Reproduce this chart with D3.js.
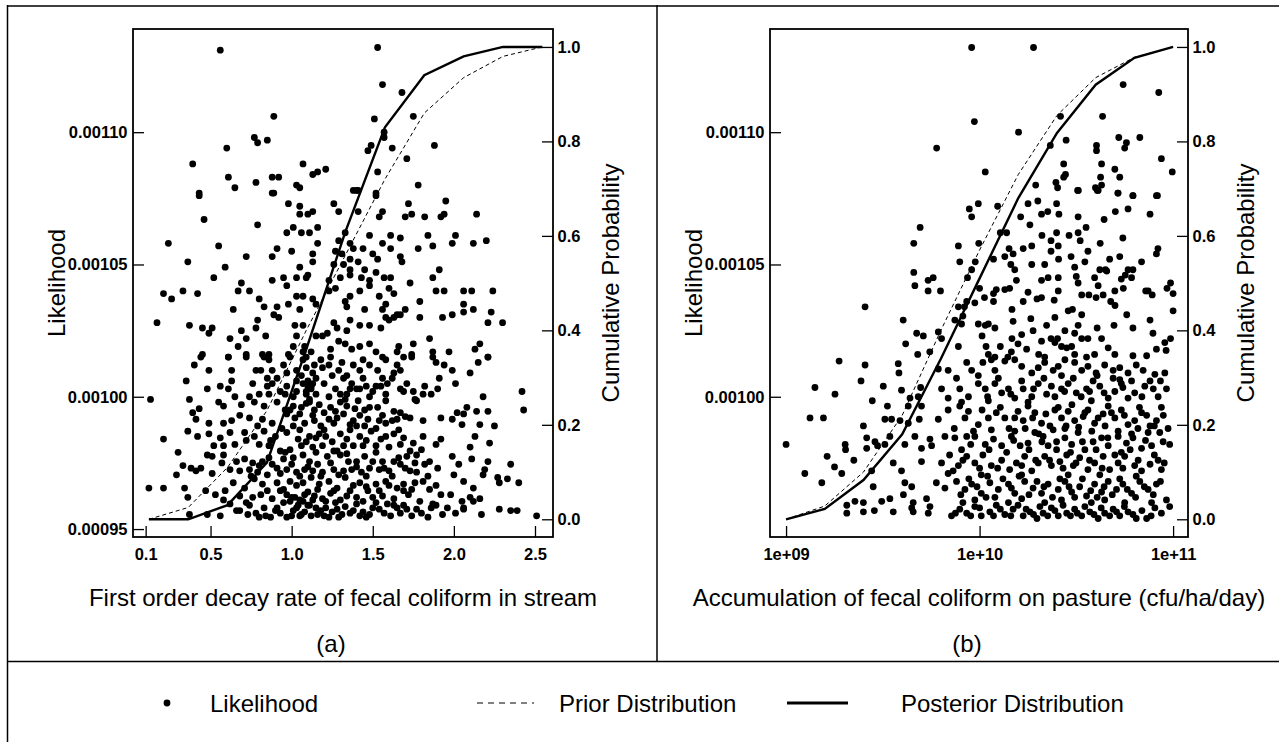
<!DOCTYPE html>
<html>
<head>
<meta charset="utf-8">
<title>Likelihood and cumulative probability</title>
<script src="https://d3js.org/d3.v7.min.js"></script>
<style>
  body { margin: 0; background: #fff; }
  svg { display: block; font-family: "Liberation Sans", Arial, Helvetica, sans-serif; }
</style>
</head>
<body>
<svg width="1279" height="742"></svg>
<script>
// tick values
const decayTicks = [0.1, 0.5, 1.0, 1.5, 2.0, 2.5];
const accumTicks = [1e9, 1e10, 1e11];
const likelihoodTicksA = [0.00095, 0.00100, 0.00105, 0.00110];
const likelihoodTicksB = [0.00100, 0.00105, 0.00110];
const probTicks = [0, 0.2, 0.4, 0.6, 0.8, 1.0];

// prior / posterior cumulative curves, panel (a)
const decayGrid = [0.12, 0.3625, 0.605, 0.8475, 1.09, 1.3325, 1.575, 1.8175, 2.06, 2.3025, 2.545];
const decayPrior = [0, 0.025, 0.11, 0.23, 0.40, 0.56, 0.72, 0.86, 0.935, 0.98, 1.0];
const decayPosterior = [0, 0, 0.03, 0.12, 0.36, 0.61, 0.83, 0.94, 0.98, 1.0, 1.0];

// panel (b)
const accumGrid = [1e9, 1.585e9, 2.512e9, 3.981e9, 6.31e9, 1e10, 1.585e10, 2.512e10, 3.981e10, 6.31e10, 1e11];
const accumPrior = [0, 0.028, 0.10, 0.22, 0.40, 0.57, 0.73, 0.855, 0.935, 0.978, 1.0];
const accumPosterior = [0, 0.022, 0.083, 0.18, 0.34, 0.51, 0.68, 0.818, 0.92, 0.977, 1.0];

// likelihood samples, panel (a): [decay rate, likelihood]
const decayPoints = [
[0.56,113.1e-5],[1.53,113.2e-5],[1.56,111.8e-5],[1.68,111.5e-5],[0.89,110.6e-5],[1.51,110.5e-5],[1.75,110.6e-5],[1.57,110.0e-5],[1.57,109.8e-5],[0.77,109.8e-5],[0.79,109.6e-5],[0.85,109.7e-5],[0.60,109.4e-5],[1.49,109.5e-5],[1.47,109.3e-5],[1.62,109.4e-5],[1.88,109.5e-5],[0.39,108.8e-5],[1.71,109.0e-5],[1.07,108.8e-5],[1.13,108.4e-5],[1.16,108.5e-5],[1.21,108.6e-5],[0.88,108.3e-5],[0.92,108.3e-5],[0.61,108.3e-5],[0.78,108.1e-5],[0.65,107.9e-5],[1.03,108.0e-5],[1.05,107.9e-5],[1.53,108.5e-5],[1.78,108.0e-5],[0.43,107.7e-5],[0.89,107.7e-5],[1.38,107.8e-5],[1.41,107.8e-5],[1.52,107.7e-5],
[0.43,107.6e-5],[0.88,107.7e-5],[1.40,107.8e-5],[1.52,107.6e-5],[0.98,107.3e-5],[1.05,107.2e-5],[1.13,107.0e-5],[1.05,106.9e-5],[1.10,106.9e-5],[1.26,107.3e-5],[1.29,107.0e-5],[1.41,107.0e-5],[1.56,107.0e-5],[1.72,107.3e-5],[1.95,107.4e-5],[2.14,106.9e-5],[1.74,106.9e-5],[1.70,106.8e-5],[1.82,106.8e-5],[1.92,106.8e-5],[1.94,106.9e-5],[1.54,106.8e-5],[0.46,106.7e-5],[0.79,106.5e-5],[1.01,106.4e-5],[0.97,106.2e-5],[1.06,106.2e-5],[1.11,106.2e-5],[1.16,106.4e-5],[1.33,106.2e-5],[1.48,106.1e-5],[1.61,106.1e-5],[1.67,106.0e-5],[1.84,106.1e-5],[2.01,106.1e-5],[1.99,105.8e-5],[2.12,105.8e-5],[2.20,105.9e-5],[0.24,105.8e-5],[0.55,105.7e-5],[0.91,105.6e-5],[1.00,105.5e-5],[1.16,105.8e-5],[1.29,105.9e-5],[1.36,105.8e-5],[1.38,105.6e-5],[1.44,105.6e-5],[1.56,105.8e-5],[1.61,105.6e-5],[1.78,105.6e-5],[1.87,105.7e-5],
[0.72,105.3e-5],[0.88,105.3e-5],[1.13,105.4e-5],[1.13,105.1e-5],[1.27,105.5e-5],[1.31,105.4e-5],[1.36,105.2e-5],[1.41,105.1e-5],[1.50,105.4e-5],[1.53,105.2e-5],[1.67,105.3e-5],[1.68,105.1e-5],[0.36,105.1e-5],[0.59,104.9e-5],[1.05,104.9e-5],[1.10,104.6e-5],[1.26,105.0e-5],[1.32,105.0e-5],[1.36,104.8e-5],[1.45,104.8e-5],[1.52,104.7e-5],[1.91,104.8e-5],[0.52,104.5e-5],[0.88,104.4e-5],[0.95,104.5e-5],[0.97,104.2e-5],[1.03,104.5e-5],[1.09,104.5e-5],[1.23,104.4e-5],[1.30,104.5e-5],[1.36,104.6e-5],[1.43,104.5e-5],[1.48,104.4e-5],[1.57,104.5e-5],[1.61,104.5e-5],[1.87,104.5e-5],[1.73,104.3e-5],[0.69,104.3e-5],[0.67,104.0e-5],[0.74,104.0e-5],[0.21,103.9e-5],[0.26,103.7e-5],[0.33,104.0e-5],[0.42,103.9e-5],[0.80,103.7e-5],[0.83,103.4e-5],[0.91,103.4e-5],[0.98,103.5e-5],[1.03,103.8e-5],[1.07,103.8e-5],[1.13,103.7e-5],[1.23,104.0e-5],[1.27,104.1e-5],[1.33,103.6e-5],[1.36,103.8e-5],[1.42,104.0e-5],[1.48,104.2e-5],[1.54,103.8e-5],[1.60,104.1e-5],[1.63,103.9e-5],[1.89,104.0e-5],[1.94,104.0e-5],[2.06,104.0e-5],[2.11,104.0e-5],[2.24,104.0e-5],[2.06,103.5e-5],[2.12,103.3e-5],[2.23,103.2e-5],
[0.64,103.3e-5],[0.89,103.1e-5],[0.92,103.0e-5],[1.05,103.3e-5],[1.15,103.5e-5],[1.34,103.4e-5],[1.45,103.3e-5],[1.58,103.5e-5],[1.56,103.3e-5],[1.65,103.1e-5],[1.70,103.3e-5],[1.79,103.6e-5],[1.79,103.0e-5],[1.93,103.0e-5],[1.99,103.1e-5],[2.06,103.2e-5],[0.17,102.8e-5],[0.37,102.7e-5],[0.45,102.6e-5],[0.51,102.6e-5],[0.49,102.4e-5],[0.79,102.9e-5],[0.78,102.6e-5],[0.84,102.3e-5],[0.62,102.2e-5],[0.69,102.5e-5],[0.72,102.2e-5],[0.67,101.9e-5],[1.02,102.7e-5],[1.03,102.3e-5],[1.07,102.7e-5],[1.15,102.3e-5],[1.22,102.4e-5],[1.26,102.8e-5],[1.28,102.6e-5],[1.34,102.5e-5],[1.36,102.9e-5],[1.42,102.7e-5],[1.48,102.7e-5],[1.55,102.6e-5],[1.58,103.0e-5],[1.60,102.9e-5],[1.63,103.0e-5],[1.67,103.1e-5],[1.85,102.2e-5],[1.87,101.7e-5],[1.97,101.7e-5],[2.13,101.8e-5],[2.16,102.0e-5],[2.21,102.8e-5],[2.30,102.8e-5],[2.21,101.5e-5],[1.75,102.0e-5],[1.74,101.6e-5],[1.66,101.9e-5],[1.65,101.7e-5],[1.56,101.5e-5],[1.52,101.7e-5],[1.48,102.0e-5],[1.42,101.9e-5],[1.37,101.8e-5],[1.33,102.0e-5],[1.29,102.1e-5],[1.24,101.8e-5],[1.19,102.3e-5],[1.01,101.9e-5],[0.98,101.6e-5],[1.08,101.9e-5],[1.12,101.7e-5],[1.09,101.5e-5],[0.86,101.6e-5],[0.82,101.6e-5],[0.72,101.6e-5],[0.61,101.5e-5],[0.45,101.6e-5],[1.07,101.7e-5],
[0.44,101.5e-5],[0.61,101.5e-5],[0.72,101.5e-5],[0.83,101.5e-5],[0.86,101.4e-5],[0.95,101.2e-5],[0.99,101.5e-5],[1.07,101.4e-5],[1.18,101.4e-5],[1.23,101.2e-5],[1.29,101.0e-5],[1.34,100.8e-5],[1.38,101.2e-5],[1.44,101.4e-5],[1.48,101.2e-5],[1.53,101.0e-5],[1.58,101.4e-5],[1.65,101.2e-5],[1.67,101.0e-5],[1.69,101.5e-5],[1.74,101.5e-5],[1.87,101.5e-5],[1.89,101.3e-5],[1.94,101.2e-5],[1.99,101.0e-5],[2.10,100.9e-5],[2.15,101.3e-5],[2.21,101.5e-5],[0.40,101.2e-5],[0.49,101.0e-5],[0.63,101.0e-5],[0.78,101.0e-5],[0.81,101.0e-5],[0.88,101.0e-5],[0.97,100.9e-5],[1.03,101.0e-5],[1.09,101.1e-5],[1.13,100.9e-5],[1.19,101.1e-5],[1.42,101.0e-5],[1.56,100.7e-5],[1.63,100.9e-5],
[0.35,100.6e-5],[0.48,100.3e-5],[0.56,100.4e-5],[0.61,100.3e-5],[0.63,100.6e-5],[0.85,100.4e-5],[0.85,100.7e-5],[0.91,100.7e-5],[0.97,100.4e-5],[1.03,100.6e-5],[1.07,100.5e-5],[1.12,100.4e-5],[1.15,100.7e-5],[1.27,100.3e-5],[1.32,100.7e-5],[1.37,100.5e-5],[1.42,100.3e-5],[1.46,100.4e-5],[1.52,100.4e-5],[1.59,100.5e-5],[1.67,100.3e-5],[1.71,100.5e-5],[1.75,100.2e-5],[1.82,100.4e-5],[1.86,100.1e-5],[1.90,100.3e-5],[1.91,100.7e-5],[2.01,100.5e-5],[2.18,100.0e-5],[2.42,100.2e-5],[0.65,100.0e-5],[0.74,100.0e-5],[0.86,100.1e-5],[0.96,100.1e-5],[1.01,100.0e-5],[1.09,100.2e-5],[1.15,100.1e-5],[1.23,100.0e-5],[1.34,100.1e-5],[1.40,100.3e-5],[1.48,100.0e-5],[1.58,100.1e-5],[1.69,100.2e-5],[1.76,99.9e-5],[1.81,100.1e-5],[0.13,99.9e-5],[1.10,100.4e-5],[1.12,100.3e-5],[1.09,100.1e-5],[1.11,99.9e-5],[1.13,100.5e-5],
[0.37,99.9e-5],[0.43,99.55e-5],[0.39,99.4e-5],[0.49,99.0e-5],[0.55,99.8e-5],[0.58,99.65e-5],[0.69,99.7e-5],[0.77,99.8e-5],[0.83,99.65e-5],[0.91,99.8e-5],[0.96,99.5e-5],[1.01,99.65e-5],[1.06,99.6e-5],[1.11,99.8e-5],[1.17,99.7e-5],[1.24,99.6e-5],[1.30,99.8e-5],[1.34,99.65e-5],[1.41,99.85e-5],[1.45,99.5e-5],[1.48,99.6e-5],[1.53,99.6e-5],[1.58,99.85e-5],[1.63,99.45e-5],[1.67,99.4e-5],[1.73,99.2e-5],[1.77,99.85e-5],[1.81,99.1e-5],[1.92,99.2e-5],[1.99,99.15e-5],[2.02,99.4e-5],[2.06,99.35e-5],[2.08,99.6e-5],[2.14,99.45e-5],[2.21,99.45e-5],[2.43,99.5e-5],[0.41,99.15e-5],[0.58,99.0e-5],[0.63,99.1e-5],[0.68,99.3e-5],[0.74,99.2e-5],[0.82,99.15e-5],[0.88,99.0e-5],[0.97,99.35e-5],[1.02,99.2e-5],[1.13,99.3e-5],[1.18,98.9e-5],[1.23,99.15e-5],[1.28,99.2e-5],[1.36,98.95e-5],[1.42,99.3e-5],[1.47,99.15e-5],[1.54,99.1e-5],[1.58,99.0e-5],[1.65,99.15e-5],[1.70,99.25e-5],[2.05,98.95e-5],[2.16,98.95e-5],[2.25,98.9e-5],
[0.21,98.4e-5],[0.36,98.7e-5],[0.42,98.5e-5],[0.49,98.6e-5],[0.56,98.45e-5],[0.62,98.65e-5],[0.71,98.65e-5],[0.77,98.5e-5],[0.83,98.7e-5],[0.90,98.5e-5],[0.97,98.65e-5],[1.05,98.75e-5],[1.11,98.5e-5],[1.15,98.45e-5],[1.21,98.5e-5],[1.30,98.6e-5],[1.36,98.75e-5],[1.42,98.5e-5],[1.49,98.7e-5],[1.55,98.4e-5],[1.63,98.6e-5],[1.69,98.45e-5],[1.75,98.25e-5],[1.81,98.5e-5],[1.89,98.2e-5],[1.92,98.4e-5],[2.13,98.5e-5],[2.22,98.25e-5],[2.10,98.1e-5],[0.30,97.9e-5],[0.52,98.15e-5],[0.58,98.15e-5],[0.65,98.2e-5],[0.72,98.35e-5],[0.80,98.2e-5],[0.86,98.15e-5],[0.93,97.95e-5],[0.99,98.0e-5],[1.06,98.15e-5],[1.13,98.1e-5],[1.19,98.15e-5],[1.28,97.95e-5],[1.32,98.15e-5],[1.38,98.15e-5],[1.44,98.15e-5],[1.52,98.15e-5],[1.60,98.1e-5],[1.67,98.2e-5],[1.73,97.95e-5],[1.80,98.0e-5],
[0.33,97.4e-5],[0.38,97.3e-5],[0.44,97.3e-5],[0.48,97.8e-5],[0.51,97.75e-5],[0.58,97.8e-5],[0.57,97.5e-5],[0.66,97.55e-5],[0.71,97.65e-5],[0.76,97.5e-5],[0.82,97.55e-5],[0.88,97.45e-5],[0.95,97.65e-5],[1.01,97.7e-5],[1.07,97.8e-5],[1.11,97.55e-5],[1.16,97.45e-5],[1.22,97.75e-5],[1.26,97.95e-5],[1.30,97.8e-5],[1.35,97.55e-5],[1.40,97.55e-5],[1.45,97.75e-5],[1.50,97.55e-5],[1.56,97.55e-5],[1.63,97.55e-5],[1.67,97.45e-5],[1.71,97.75e-5],[1.77,97.8e-5],[1.82,97.45e-5],[1.77,97.15e-5],[1.85,97.55e-5],[1.99,97.75e-5],[2.03,97.45e-5],[2.11,97.65e-5],[2.21,97.55e-5],[2.35,97.45e-5],[2.19,97.25e-5],[0.29,97.05e-5],[0.41,97.2e-5],[0.51,97.1e-5],[0.62,97.25e-5],[0.68,97.2e-5],[0.74,97.25e-5],[0.79,97.15e-5],[0.85,97.05e-5],[0.91,97.3e-5],[0.97,97.25e-5],[1.03,97.15e-5],[1.08,97.25e-5],[1.13,97.2e-5],[1.19,97.15e-5],[1.26,97.25e-5],[1.32,97.2e-5],[1.37,97.25e-5],[1.43,97.15e-5],[1.48,97.3e-5],[1.54,97.25e-5],[1.60,97.2e-5],[1.73,97.2e-5],
[0.12,96.55e-5],[0.21,96.55e-5],[0.34,96.55e-5],[0.47,96.45e-5],[0.53,96.3e-5],[0.59,96.45e-5],[0.64,96.75e-5],[0.71,96.55e-5],[0.77,96.9e-5],[0.82,96.7e-5],[0.85,96.45e-5],[0.91,96.75e-5],[0.95,96.5e-5],[0.99,96.8e-5],[1.03,96.65e-5],[1.07,96.75e-5],[1.12,96.95e-5],[1.17,96.7e-5],[1.23,96.8e-5],[1.28,96.55e-5],[1.33,96.95e-5],[1.38,96.65e-5],[1.42,96.75e-5],[1.47,96.45e-5],[1.52,96.7e-5],[1.58,96.8e-5],[1.65,96.55e-5],[1.69,96.45e-5],[1.76,96.75e-5],[1.81,96.8e-5],[1.85,96.5e-5],[1.89,96.65e-5],[1.92,96.3e-5],[2.00,97.05e-5],[2.06,96.8e-5],[2.12,96.55e-5],[2.18,97.05e-5],[2.27,96.95e-5],[2.33,96.9e-5],[2.40,96.75e-5],[2.28,96.75e-5],[0.36,96.2e-5],[0.68,96.25e-5],[0.76,96.2e-5],[0.81,96.3e-5],[0.97,96.3e-5],[1.02,96.2e-5],[1.08,96.3e-5],[1.14,96.25e-5],[1.19,96.15e-5],[1.26,96.45e-5],[1.34,96.25e-5],[1.40,96.2e-5],[1.44,96.05e-5],[1.50,96.2e-5],[1.56,96.25e-5],[1.63,96.15e-5],[1.72,96.3e-5],[1.79,96.05e-5],[1.87,95.95e-5],[1.98,96.3e-5],[2.05,96.05e-5],[2.10,96.2e-5],[2.16,96.15e-5],[2.06,95.8e-5],
[0.37,95.55e-5],[0.48,95.55e-5],[0.56,95.5e-5],[0.68,95.7e-5],[0.73,95.55e-5],[0.80,95.45e-5],[0.84,95.5e-5],[0.90,95.7e-5],[0.97,95.45e-5],[1.01,95.7e-5],[1.06,95.55e-5],[1.12,95.5e-5],[1.18,95.7e-5],[1.23,95.45e-5],[1.29,95.45e-5],[1.36,95.6e-5],[1.42,95.5e-5],[1.46,95.45e-5],[1.54,95.75e-5],[1.59,95.95e-5],[1.65,95.8e-5],[1.74,95.5e-5],[1.77,95.75e-5],[1.84,95.45e-5],[1.93,95.55e-5],[2.01,95.6e-5],[2.06,95.75e-5],[2.17,95.55e-5],[2.28,95.75e-5],[2.35,95.7e-5],[2.39,95.7e-5],[2.51,95.5e-5],[0.91,95.8e-5],[1.04,95.9e-5],[1.11,95.9e-5],[1.15,95.8e-5],[1.21,95.8e-5],[1.28,95.75e-5],[1.50,95.8e-5],[1.69,95.9e-5],[1.89,95.9e-5],[2.12,96.05e-5],[0.74,95.9e-5],[0.62,95.95e-5],[1.21,96.05e-5],[1.07,96.05e-5],[0.99,96.05e-5],
[0.78,95.6e-5],[0.83,95.8e-5],[0.87,95.45e-5],[0.93,95.6e-5],[0.95,96.0e-5],[1.00,95.5e-5],[1.03,95.8e-5],[1.05,95.5e-5],[1.08,95.65e-5],[1.10,95.9e-5],[1.13,96.1e-5],[1.16,95.55e-5],[1.20,95.5e-5],[1.25,95.65e-5],[1.27,96.0e-5],[1.31,95.55e-5],[1.33,95.85e-5],[1.38,95.7e-5],[1.40,95.95e-5],[1.44,95.65e-5],[1.48,95.55e-5],[1.52,96.0e-5],[1.57,95.6e-5],[1.61,95.5e-5],[1.63,95.9e-5],[1.67,95.6e-5],[1.71,95.75e-5],[1.80,95.6e-5],[1.86,95.8e-5],[1.96,95.8e-5],[1.05,96.1e-5],[1.00,96.2e-5],[1.10,96.4e-5],[1.16,96.5e-5],[1.24,96.35e-5],[1.30,96.1e-5],[1.36,96.45e-5],[1.46,96.6e-5],[1.54,96.45e-5],[1.60,96.65e-5],[1.69,96.7e-5],[1.74,96.5e-5],[0.88,96.15e-5],[0.93,96.45e-5],[0.72,96.0e-5],[0.66,95.7e-5],[0.58,96.1e-5],
[0.75,97.0e-5],[0.80,97.4e-5],[0.86,97.7e-5],[0.93,97.1e-5],[1.00,97.45e-5],[1.05,97.0e-5],[1.10,97.35e-5],[1.15,97.9e-5],[1.18,97.0e-5],[1.24,97.5e-5],[1.29,97.05e-5],[1.34,97.85e-5],[1.40,97.35e-5],[1.46,97.0e-5],[1.52,97.9e-5],[1.57,97.3e-5],[1.62,97.0e-5],[1.66,97.7e-5],[1.70,97.3e-5],[1.76,97.5e-5],[1.84,97.0e-5],[1.90,97.3e-5],[0.96,97.9e-5],[1.04,98.4e-5],[1.09,98.3e-5],[1.17,98.6e-5],[1.25,98.3e-5],[1.34,98.4e-5],[1.40,98.9e-5],[1.46,98.35e-5],[1.52,98.8e-5],[1.58,98.5e-5],[1.66,98.75e-5],[0.94,98.8e-5],[0.87,98.35e-5],[0.79,98.9e-5],[1.01,98.9e-5],[1.08,99.0e-5],[1.14,99.1e-5],[1.20,98.75e-5],[1.26,99.0e-5],[1.32,99.35e-5],[1.38,99.1e-5],[1.45,98.9e-5],[1.56,99.3e-5],[1.62,99.1e-5],[0.99,99.5e-5],[1.05,99.35e-5],[1.09,99.75e-5],[1.14,99.5e-5],[1.20,99.4e-5],[1.27,99.45e-5],[1.33,99.9e-5],[1.39,99.55e-5],
[1.03,100.2e-5],[1.06,100.8e-5],[1.10,100.6e-5],[1.14,101.2e-5],[1.20,100.5e-5],[1.25,100.8e-5],[1.30,100.1e-5],[1.36,100.3e-5],[1.44,100.7e-5],[1.50,100.2e-5],[1.55,100.4e-5],[0.93,100.2e-5],[0.88,100.5e-5],[0.80,100.1e-5],[0.76,100.5e-5],[1.62,100.7e-5],[1.24,101.5e-5],[1.31,101.3e-5]
];

// likelihood samples, panel (b): [accumulation, likelihood]
const accumPoints = [
[9.1e9,113.2e-5],[1.9e10,113.2e-5],[5.52e10,111.8e-5],[8.43e10,111.5e-5],[9.4e9,110.4e-5],[2.62e10,110.6e-5],[4.32e10,110.6e-5],[1.59e10,110.0e-5],[6.0e9,109.4e-5],[2.32e10,109.5e-5],[2.8e10,109.7e-5],[4.02e10,109.5e-5],[4.02e10,109.3e-5],[5.24e10,109.8e-5],[5.74e10,109.6e-5],[5.62e10,109.4e-5],[6.73e10,109.8e-5],[8.7e10,109.0e-5],[9.9e10,108.5e-5],[1.07e10,108.5e-5],[2.72e10,108.8e-5],[4.27e10,108.8e-5],[5.0e10,108.6e-5],[5.3e10,108.3e-5],[2.78e10,108.4e-5],[2.72e10,108.3e-5],[4.22e10,108.3e-5],[3.97e10,107.9e-5],[4.1e10,107.8e-5],[1.95e10,108.0e-5],[2.48e10,108.1e-5],[2.53e10,107.9e-5],[3.24e10,107.8e-5],[5.18e10,107.7e-5],[6.2e10,107.6e-5],[8.2e10,107.6e-5],[4.27e10,108.0e-5],
[3.21e10,107.8e-5],[4.06e10,107.8e-5],[5.2e10,107.7e-5],[6.2e10,107.6e-5],[8.3e10,107.6e-5],[8.85e9,107.1e-5],[9.85e9,107.3e-5],[9.1e9,106.8e-5],[1.24e10,107.2e-5],[1.78e10,107.3e-5],[2.0e10,107.4e-5],[2.5e10,107.3e-5],[2.09e10,106.9e-5],[2.25e10,107.0e-5],[2.57e10,106.9e-5],[5.03e10,107.0e-5],[5.85e10,107.1e-5],[7.6e10,106.9e-5],[3.23e10,106.8e-5],[4.4e10,106.7e-5],[1.63e10,106.8e-5],[4.93e9,106.4e-5],[1.82e10,106.5e-5],[2.1e10,106.1e-5],[2.5e10,106.2e-5],[2.9e10,106.1e-5],[3.23e10,106.2e-5],[3.55e10,106.4e-5],[5.5e10,106.0e-5],[4.57e9,105.8e-5],[7.77e9,105.7e-5],[9.9e9,105.8e-5],[1.28e10,106.2e-5],[1.38e10,106.2e-5],[1.42e10,105.6e-5],[1.68e10,105.6e-5],[1.86e10,105.7e-5],[2.34e10,105.9e-5],[2.55e10,105.7e-5],[2.34e10,105.5e-5],[3.31e10,105.9e-5],[3.63e10,105.5e-5],[4.2e10,105.8e-5],[4.7e10,105.2e-5],[5.3e10,105.3e-5],[8.35e10,105.6e-5],[8.2e10,105.4e-5],
[7.9e9,105.1e-5],[9.5e9,105.1e-5],[1.18e10,105.2e-5],[1.35e10,105.3e-5],[1.49e10,105.4e-5],[1.45e10,105.0e-5],[1.52e10,104.8e-5],[1.86e10,105.0e-5],[2.17e10,105.0e-5],[2.56e10,105.2e-5],[2.97e10,105.3e-5],[3.5e10,105.1e-5],[4.47e10,104.8e-5],[4.18e10,104.8e-5],[5.85e10,104.8e-5],[6.2e10,104.8e-5],[6.87e10,105.1e-5],[4.57e9,104.7e-5],[5.76e9,104.5e-5],[5.42e9,104.4e-5],[4.63e9,104.2e-5],[5.42e9,104.0e-5],[6.28e9,104.0e-5],[8.66e9,104.5e-5],[9.1e9,104.8e-5],[1.0e10,104.1e-5],[1.06e10,103.75e-5],[1.18e10,103.9e-5],[1.22e10,104.05e-5],[1.35e10,104.05e-5],[1.43e10,104.1e-5],[1.55e10,104.4e-5],[2.09e10,104.4e-5],[2.26e10,104.5e-5],[2.55e10,104.5e-5],[2.55e10,104.0e-5],[3.1e10,104.9e-5],[3.16e10,104.55e-5],[3.23e10,104.3e-5],[3.93e10,104.5e-5],[4.1e10,104.2e-5],[4.54e10,104.75e-5],[5.4e10,104.45e-5],[5.66e10,104.6e-5],[6.1e10,104.5e-5],[7.43e10,104.0e-5],[9.7e10,104.3e-5],[9.3e10,104.1e-5],[1.0e11,103.9e-5],[5.0e10,104.0e-5],[5.53e10,104.1e-5],[3.37e10,103.85e-5],[3.67e10,103.85e-5],[4.0e10,103.75e-5],[4.35e10,103.85e-5],
[2.56e9,103.4e-5],[4.03e9,102.9e-5],[4.73e9,102.4e-5],[5.12e9,102.3e-5],[6.12e9,102.45e-5],[6.36e9,102.2e-5],[7.77e9,103.4e-5],[8.35e9,103.4e-5],[8.58e9,103.6e-5],[9.45e9,103.55e-5],[1.18e10,103.6e-5],[1.47e10,103.3e-5],[1.68e10,103.6e-5],[1.78e10,103.95e-5],[1.98e10,103.7e-5],[2.09e10,103.75e-5],[2.43e10,103.65e-5],[2.87e10,103.25e-5],[3.02e10,103.3e-5],[3.37e10,103.1e-5],[4.76e10,103.6e-5],[5.01e10,103.45e-5],[5.76e10,103.1e-5],[7.22e10,104.0e-5],[7.8e10,103.85e-5],[7.6e10,102.9e-5],[1.0e11,103.25e-5],[7.45e9,102.9e-5],[8.2e9,103.05e-5],[8.07e9,102.75e-5],[9.85e9,102.75e-5],[1.07e10,102.7e-5],[1.11e10,102.75e-5],[1.2e10,102.6e-5],[1.03e10,102.3e-5],[1.08e10,101.9e-5],[1.28e10,101.9e-5],[1.47e10,102.2e-5],[1.49e10,102.85e-5],[1.65e10,102.35e-5],[1.84e10,102.95e-5],[1.89e10,102.5e-5],[2.09e10,102.1e-5],[2.22e10,102.7e-5],[2.45e10,103.0e-5],[2.34e10,102.2e-5],[2.53e10,102.2e-5],[2.76e10,102.5e-5],[3.1e10,102.4e-5],[3.23e10,102.7e-5],[3.37e10,102.2e-5],[3.63e10,102.2e-5],[4.05e10,102.6e-5],[4.27e10,102.2e-5],[4.95e10,102.7e-5],[6.2e10,102.6e-5],[7.87e10,102.4e-5],[9.06e10,102.05e-5],[9.7e10,102.2e-5],
[4.15e9,102.0e-5],[4.79e9,101.6e-5],[5.53e9,101.7e-5],[7.77e9,101.9e-5],[1.46e10,101.7e-5],[1.58e10,102.0e-5],[1.75e10,101.8e-5],[2.02e10,101.6e-5],[2.17e10,101.5e-5],[2.45e10,102.05e-5],[2.65e10,101.9e-5],[2.82e10,101.85e-5],[2.99e10,101.9e-5],[3.1e10,101.6e-5],[3.57e10,101.5e-5],[3.93e10,101.6e-5],[4.62e10,101.85e-5],[5.0e10,101.6e-5],[6.2e10,101.55e-5],[7.3e10,101.55e-5],[8.2e10,101.8e-5],[9.2e10,101.75e-5],[1.11e10,101.6e-5],[1.2e10,101.5e-5],[1.4e10,101.5e-5],
[1.88e9,101.35e-5],[2.56e9,101.2e-5],[3.8e9,101.25e-5],[3.83e9,100.9e-5],[1.41e9,100.35e-5],[1.79e9,100.1e-5],[2.44e9,100.6e-5],[3.18e9,100.4e-5],[2.79e9,99.85e-5],[3.34e9,99.65e-5],[3.95e9,100.25e-5],[4.37e9,99.95e-5],[4.28e9,99.65e-5],[4.96e9,100.35e-5],[5.01e9,99.65e-5],[1.33e9,99.2e-5],[1.56e9,99.2e-5],[2.51e9,98.9e-5],[3.24e9,99.15e-5],[3.51e9,99.15e-5],[3.88e9,99.1e-5],[4.28e9,99.0e-5],[4.88e9,99.15e-5],[1.0e9,98.2e-5],[1.25e9,97.1e-5],[1.53e9,96.75e-5],[1.63e9,97.75e-5],[1.78e9,97.35e-5],[1.94e9,97.1e-5],[2.02e9,98.2e-5],[2.03e9,98.0e-5],[2.24e9,97.6e-5],[2.61e9,98.45e-5],[2.61e9,98.05e-5],[2.88e9,98.3e-5],[2.97e9,98.15e-5],[2.77e9,97.2e-5],[2.82e9,96.6e-5],[2.06e9,95.9e-5],[2.06e9,95.6e-5],[2.27e9,96.05e-5],[2.51e9,96.0e-5],[2.51e9,95.65e-5],[2.86e9,95.7e-5],[3.12e9,96.05e-5],[3.44e9,96.15e-5],[3.58e9,95.65e-5],[4.04e9,96.3e-5],[4.11e9,96.75e-5],[4.46e9,96.6e-5],[4.54e9,96.0e-5],[4.54e9,95.65e-5],[5.32e9,96.15e-5],[5.43e9,95.6e-5],[3.24e9,98.2e-5],[3.44e9,98.5e-5],[4.11e9,98.2e-5],[4.63e9,98.5e-5],[5.01e9,98.05e-5],[5.01e9,97.55e-5],[3.58e9,97.5e-5],[3.95e9,97.2e-5],[5.65e9,98.15e-5],[5.54e9,98.4e-5],[6.12e9,101.05e-5],[4.82e9,100.0e-5],
[6.88e9,101.0e-5],[7.6e9,100.7e-5],[8.58e9,101.3e-5],[9.1e9,101.0e-5],[9.85e9,100.8e-5],[1.04e10,101.3e-5],[1.15e10,101.4e-5],[1.2e10,101.0e-5],[1.35e10,101.35e-5],[1.52e10,101.4e-5],[1.65e10,101.15e-5],[1.86e10,100.9e-5],[2.01e10,101.1e-5],[2.17e10,101.3e-5],[2.4e10,101.0e-5],[2.55e10,101.15e-5],[2.76e10,101.4e-5],[3.1e10,101.3e-5],[3.37e10,101.0e-5],[3.63e10,101.15e-5],[4.0e10,100.9e-5],[4.43e10,101.2e-5],[4.9e10,101.0e-5],[5.3e10,101.1e-5],[5.85e10,100.9e-5],[6.45e10,101.2e-5],[7.0e10,101.0e-5],[8.05e10,100.85e-5],[9.06e10,100.9e-5],
[6.36e9,100.3e-5],[6.88e9,99.95e-5],[7.9e9,100.3e-5],[8.76e9,100.0e-5],[9.85e9,100.5e-5],[1.07e10,100.3e-5],[1.2e10,100.5e-5],[1.3e10,100.15e-5],[1.41e10,100.3e-5],[1.52e10,99.95e-5],[1.68e10,100.3e-5],[1.86e10,100.0e-5],[2.01e10,100.5e-5],[2.22e10,100.1e-5],[2.35e10,100.4e-5],[2.65e10,100.3e-5],[2.87e10,100.5e-5],[3.16e10,100.15e-5],[3.57e10,100.3e-5],[3.86e10,100.6e-5],[4.18e10,100.4e-5],[4.62e10,99.95e-5],[5.0e10,100.2e-5],[5.4e10,100.5e-5],[5.85e10,99.95e-5],[6.33e10,100.15e-5],[7.14e10,100.4e-5],[7.9e10,100.3e-5],[8.37e10,100.0e-5],[9.24e10,100.3e-5],[5.3e10,100.65e-5],[2.65e10,100.8e-5],[1.11e10,99.85e-5],[8.07e9,99.8e-5],[1.78e10,99.8e-5],[3.78e10,99.85e-5],
[6.12e9,99.15e-5],[6.88e9,99.5e-5],[7.9e9,99.65e-5],[8.76e9,99.45e-5],[9.85e9,98.95e-5],[1.11e10,99.2e-5],[1.22e10,99.4e-5],[1.35e10,99.2e-5],[1.52e10,99.2e-5],[1.68e10,99.1e-5],[1.78e10,99.65e-5],[1.93e10,99.4e-5],[2.09e10,99.0e-5],[2.31e10,98.9e-5],[2.45e10,99.5e-5],[2.65e10,99.2e-5],[2.87e10,99.45e-5],[3.1e10,99.1e-5],[3.43e10,99.25e-5],[3.63e10,99.5e-5],[3.93e10,99.0e-5],[4.35e10,99.35e-5],[4.62e10,99.65e-5],[5.0e10,99.2e-5],[5.4e10,99.5e-5],[5.85e10,98.95e-5],[6.33e10,99.1e-5],[6.87e10,99.4e-5],[7.6e10,98.9e-5],[8.2e10,99.1e-5],[8.7e10,99.6e-5],[9.42e10,98.8e-5],[8.53e10,98.65e-5],[7.43e10,98.65e-5],[6.58e10,98.8e-5],
[6.62e9,98.5e-5],[7.45e9,98.45e-5],[8.58e9,98.5e-5],[9.45e9,98.5e-5],[1.07e10,98.2e-5],[1.18e10,98.4e-5],[1.3e10,98.15e-5],[1.46e10,98.5e-5],[1.62e10,98.15e-5],[1.78e10,98.25e-5],[1.93e10,98.65e-5],[2.13e10,98.5e-5],[2.26e10,98.15e-5],[2.5e10,98.3e-5],[2.76e10,98.45e-5],[2.99e10,98.2e-5],[3.23e10,98.65e-5],[3.5e10,98.0e-5],[3.86e10,98.3e-5],[4.27e10,98.45e-5],[4.62e10,98.15e-5],[5.2e10,98.5e-5],[5.74e10,98.25e-5],[6.2e10,98.45e-5],[6.87e10,98.05e-5],[7.74e10,98.15e-5],[8.88e10,98.3e-5],[9.6e10,98.2e-5],[8.07e9,98.0e-5],[1.52e10,98.7e-5],[2.76e10,98.8e-5],[5.4e10,97.9e-5],
[6.36e9,97.5e-5],[7.0e9,97.8e-5],[7.77e9,97.4e-5],[8.58e9,97.75e-5],[9.45e9,97.5e-5],[1.04e10,97.8e-5],[1.15e10,97.4e-5],[1.3e10,97.6e-5],[1.43e10,97.25e-5],[1.55e10,97.5e-5],[1.71e10,97.75e-5],[1.86e10,97.2e-5],[2.01e10,97.5e-5],[2.17e10,97.75e-5],[2.35e10,97.4e-5],[2.6e10,97.55e-5],[2.82e10,97.8e-5],[3.05e10,97.4e-5],[3.29e10,97.7e-5],[3.63e10,97.25e-5],[3.93e10,97.5e-5],[4.35e10,97.75e-5],[4.7e10,97.25e-5],[5.2e10,97.5e-5],[5.62e10,97.75e-5],[6.33e10,97.4e-5],[6.87e10,97.2e-5],[7.6e10,97.45e-5],[8.37e10,97.6e-5],[8.7e10,97.25e-5],[6.88e9,97.1e-5],[1.02e10,97.05e-5],[1.65e10,97.05e-5],[2.87e10,97.05e-5],[4.18e10,97.05e-5],[6.45e10,97.0e-5],
[5.98e9,96.75e-5],[6.62e9,96.55e-5],[7.6e9,96.8e-5],[8.4e9,96.5e-5],[9.1e9,96.7e-5],[1.02e10,96.35e-5],[1.13e10,96.75e-5],[1.25e10,96.5e-5],[1.41e10,96.7e-5],[1.52e10,96.35e-5],[1.71e10,96.8e-5],[1.89e10,96.55e-5],[2.09e10,96.35e-5],[2.26e10,96.7e-5],[2.55e10,96.5e-5],[2.76e10,96.8e-5],[2.99e10,96.4e-5],[3.29e10,96.6e-5],[3.57e10,96.25e-5],[3.93e10,96.7e-5],[4.27e10,96.4e-5],[4.62e10,96.8e-5],[5.1e10,96.5e-5],[5.5e10,96.7e-5],[6.1e10,96.35e-5],[6.73e10,96.8e-5],[7.43e10,96.5e-5],[8.2e10,96.7e-5],[9.24e10,96.1e-5],[9.6e10,95.85e-5],[7.74e10,96.0e-5],[1.65e10,96.15e-5],[9.45e9,96.1e-5],[2.65e10,96.1e-5],[4.43e10,96.1e-5],
[7.16e9,95.5e-5],[7.9e9,95.75e-5],[8.58e9,95.6e-5],[9.45e9,95.85e-5],[1.02e10,95.5e-5],[1.13e10,95.65e-5],[1.22e10,95.9e-5],[1.35e10,95.55e-5],[1.49e10,95.75e-5],[1.68e10,95.5e-5],[1.82e10,95.65e-5],[1.98e10,95.4e-5],[2.13e10,95.6e-5],[2.35e10,95.8e-5],[2.55e10,95.5e-5],[2.82e10,95.6e-5],[3.1e10,95.75e-5],[3.37e10,95.5e-5],[3.71e10,95.65e-5],[4.1e10,95.4e-5],[4.43e10,95.6e-5],[4.9e10,95.75e-5],[5.3e10,95.5e-5],[5.85e10,95.65e-5],[6.45e10,95.4e-5],[7.3e10,95.4e-5],[8.05e10,95.8e-5],[8.7e10,95.6e-5],[5.54e9,95.85e-5],[4.46e9,95.8e-5],[2.17e10,96.0e-5],[1.41e10,96.0e-5],[3.78e10,96.0e-5],[5.62e10,96.0e-5],
[7.5e9,95.6e-5],[8.2e9,96.0e-5],[9.0e9,95.5e-5],[1.0e10,95.8e-5],[1.08e10,96.2e-5],[1.18e10,95.5e-5],[1.28e10,95.75e-5],[1.45e10,95.5e-5],[1.58e10,95.9e-5],[1.74e10,95.75e-5],[1.9e10,95.55e-5],[2.05e10,95.85e-5],[2.25e10,95.5e-5],[2.45e10,95.7e-5],[2.7e10,95.9e-5],[2.95e10,95.5e-5],[3.2e10,95.6e-5],[3.5e10,95.85e-5],[3.9e10,95.55e-5],[4.25e10,95.8e-5],[4.7e10,95.5e-5],[5.1e10,95.65e-5],[5.6e10,95.85e-5],[6.2e10,95.55e-5],[6.9e10,95.7e-5],[7.7e10,95.5e-5],
[8.0e9,96.3e-5],[8.8e9,96.9e-5],[9.7e9,96.6e-5],[1.1e10,97.0e-5],[1.2e10,96.2e-5],[1.32e10,96.9e-5],[1.46e10,96.55e-5],[1.6e10,97.0e-5],[1.8e10,96.3e-5],[1.98e10,96.8e-5],[2.15e10,96.6e-5],[2.38e10,96.2e-5],[2.6e10,96.9e-5],[2.9e10,96.6e-5],[3.1e10,96.2e-5],[3.4e10,96.9e-5],[3.75e10,96.45e-5],[4.05e10,96.2e-5],[4.4e10,96.6e-5],[4.85e10,96.3e-5],[5.3e10,96.9e-5],[5.8e10,96.5e-5],[6.4e10,96.2e-5],[7.1e10,96.6e-5],[7.9e10,96.3e-5],[8.6e10,96.8e-5],
[7.3e9,97.2e-5],[8.2e9,97.6e-5],[9.0e9,98.2e-5],[1.0e10,97.3e-5],[1.12e10,98.0e-5],[1.24e10,97.3e-5],[1.38e10,97.9e-5],[1.5e10,98.35e-5],[1.65e10,97.4e-5],[1.8e10,98.0e-5],[1.95e10,97.6e-5],[2.1e10,98.3e-5],[2.3e10,97.6e-5],[2.5e10,98.0e-5],[2.7e10,97.3e-5],[2.95e10,97.9e-5],[3.15e10,97.5e-5],[3.4e10,98.3e-5],[3.7e10,97.6e-5],[4.0e10,98.0e-5],[4.3e10,97.3e-5],[4.6e10,98.45e-5],[5.0e10,97.8e-5],[5.5e10,97.3e-5],[6.0e10,98.0e-5],[6.6e10,97.6e-5],[7.2e10,98.35e-5],[8.0e10,97.8e-5],[9.0e10,97.5e-5],
[7.4e9,98.8e-5],[8.4e9,99.2e-5],[9.3e9,98.7e-5],[1.03e10,99.5e-5],[1.15e10,98.75e-5],[1.28e10,99.6e-5],[1.42e10,98.8e-5],[1.58e10,99.45e-5],[1.72e10,98.8e-5],[1.88e10,99.2e-5],[2.02e10,98.6e-5],[2.2e10,99.35e-5],[2.4e10,98.75e-5],[2.55e10,99.6e-5],[2.8e10,98.9e-5],[3.0e10,99.7e-5],[3.25e10,98.85e-5],[3.5e10,99.4e-5],[3.8e10,98.7e-5],[4.1e10,99.2e-5],[4.45e10,98.9e-5],[4.8e10,99.4e-5],[5.2e10,98.7e-5],[5.6e10,99.3e-5],[6.1e10,98.6e-5],[6.7e10,99.6e-5],[7.3e10,99.3e-5],[8.0e10,98.9e-5],[8.9e10,99.3e-5],
[1.1e10,100.0e-5],[1.25e10,100.7e-5],[1.45e10,100.1e-5],[1.65e10,100.6e-5],[1.9e10,100.3e-5],[2.15e10,100.7e-5],[2.45e10,100.0e-5],[2.75e10,100.2e-5],[3.05e10,100.7e-5],[3.35e10,100.0e-5],[3.7e10,100.2e-5],[4.05e10,100.8e-5],[4.4e10,100.15e-5],[4.9e10,100.7e-5],[5.5e10,100.35e-5],[6.1e10,100.6e-5],[6.9e10,100.0e-5],[7.6e10,100.6e-5],[8.6e10,100.6e-5]
];

const svg = d3.select("svg");
svg.append("rect").attr("width", 1279).attr("height", 742).attr("fill", "#fff");

// outer frame and dividers
const frame = svg.append("g").attr("stroke", "#000").attr("stroke-width", 1.5);
frame.append("line").attr("x1", 7).attr("y1", 6).attr("x2", 1279).attr("y2", 6);
frame.append("line").attr("x1", 7.5).attr("y1", 5).attr("x2", 7.5).attr("y2", 742);
frame.append("line").attr("x1", 657).attr("y1", 5).attr("x2", 657).attr("y2", 661.5);
frame.append("line").attr("x1", 7).attr("y1", 661.5).attr("x2", 1279).attr("y2", 661.5);

const plotTop = 29, plotBottom = 537;
const likeDomain = [94.7e-5, 113.9e-5];
const probDomain = [-0.0375, 1.038];

function styleAxis(g) {
  g.select(".domain").remove();
  g.selectAll(".tick line").attr("stroke", "#000").attr("stroke-width", 1.3);
  g.selectAll(".tick text")
    .attr("fill", "#000")
    .attr("font-size", "16.5px")
    .attr("font-weight", "bold")
    .attr("font-family", "'Liberation Sans', Arial, Helvetica, sans-serif");
}

function drawPanel(p) {
  const x = p.x;
  const y = d3.scaleLinear().domain(likeDomain).range([plotBottom, plotTop]);
  const yp = d3.scaleLinear().domain(probDomain).range([plotBottom, plotTop]);
  const g = svg.append("g");

  // likelihood samples
  g.append("g").selectAll("circle")
    .data(p.points)
    .join("circle")
    .attr("cx", d => x(d[0]))
    .attr("cy", d => y(d[1]))
    .attr("r", 3.4)
    .attr("fill", "#000");

  // prior (dashed) and posterior (solid)
  const line = d3.line().x(d => x(d[0])).y(d => yp(d[1]));
  g.append("path")
    .datum(p.grid.map((v, i) => [v, p.prior[i]]))
    .attr("d", line).attr("fill", "none")
    .attr("stroke", "#000").attr("stroke-width", 1).attr("stroke-dasharray", "4,3");
  g.append("path")
    .datum(p.grid.map((v, i) => [v, p.posterior[i]]))
    .attr("d", line).attr("fill", "none")
    .attr("stroke", "#000").attr("stroke-width", 2.4);

  // axes, ticks pointing inward
  g.append("g").attr("transform", `translate(0,${plotBottom})`)
    .call(d3.axisBottom(x).tickValues(p.xTicks).tickFormat(p.xFormat).tickSize(-11).tickPadding(11))
    .call(styleAxis);
  g.append("g").attr("transform", `translate(${p.left},0)`)
    .call(d3.axisLeft(y).tickValues(p.yTicks).tickFormat(d3.format(".5f")).tickSize(-11).tickPadding(5.5))
    .call(styleAxis);
  g.append("g").attr("transform", `translate(${p.right},0)`)
    .call(d3.axisRight(yp).tickValues(probTicks).tickFormat(d3.format(".1f")).tickSize(-11).tickPadding(4.5))
    .call(styleAxis);

  g.append("rect")
    .attr("x", p.left).attr("y", plotTop)
    .attr("width", p.right - p.left).attr("height", plotBottom - plotTop)
    .attr("fill", "none").attr("stroke", "#000").attr("stroke-width", 1.8);

  // titles
  const cx = (p.left + p.right) / 2, cy = (plotTop + plotBottom) / 2;
  g.append("text").attr("x", cx).attr("y", 606).attr("text-anchor", "middle")
    .attr("font-size", "24px").text(p.xTitle);
  g.append("text").attr("transform", `translate(${p.left - 68},${cy}) rotate(-90)`)
    .attr("text-anchor", "middle").attr("font-size", "24px").text("Likelihood");
  g.append("text").attr("transform", `translate(${p.right + 66},${cy}) rotate(-90)`)
    .attr("text-anchor", "middle").attr("font-size", "24px").text("Cumulative Probability");
  g.append("text").attr("x", p.tagX).attr("y", 652).attr("text-anchor", "middle")
    .attr("font-size", "24px").text(p.tag);
}

drawPanel({
  x: d3.scaleLinear().domain([0.022, 2.611]).range([133, 553]),
  left: 133, right: 553,
  points: decayPoints, grid: decayGrid, prior: decayPrior, posterior: decayPosterior,
  xTicks: decayTicks, xFormat: d3.format(".1f"), yTicks: likelihoodTicksA,
  xTitle: "First order decay rate of fecal coliform in stream", tag: "(a)", tagX: 331
});

drawPanel({
  x: d3.scaleLog().domain([Math.pow(10, 8.917), Math.pow(10, 11.077)]).range([770, 1188]),
  left: 770, right: 1188,
  points: accumPoints, grid: accumGrid, prior: accumPrior, posterior: accumPosterior,
  xTicks: accumTicks, xFormat: d => "1e+" + String(Math.round(Math.log10(d))).padStart(2, "0"),
  yTicks: likelihoodTicksB,
  xTitle: "Accumulation of fecal coliform on pasture (cfu/ha/day)", tag: "(b)", tagX: 967
});

// legend
const legend = svg.append("g");
const ly = 703;
legend.append("circle").attr("cx", 167).attr("cy", ly).attr("r", 3.4).attr("fill", "#000");
legend.append("text").attr("x", 210).attr("y", ly + 8.5).attr("font-size", "24px").text("Likelihood");
legend.append("line").attr("x1", 477).attr("x2", 534).attr("y1", ly).attr("y2", ly)
  .attr("stroke", "#000").attr("stroke-width", 1).attr("stroke-dasharray", "6,5");
legend.append("text").attr("x", 559).attr("y", ly + 8.5).attr("font-size", "24px").text("Prior Distribution");
legend.append("line").attr("x1", 787).attr("x2", 848).attr("y1", ly).attr("y2", ly)
  .attr("stroke", "#000").attr("stroke-width", 3);
legend.append("text").attr("x", 901).attr("y", ly + 8.5).attr("font-size", "24px").text("Posterior Distribution");
</script>
</body>
</html>
